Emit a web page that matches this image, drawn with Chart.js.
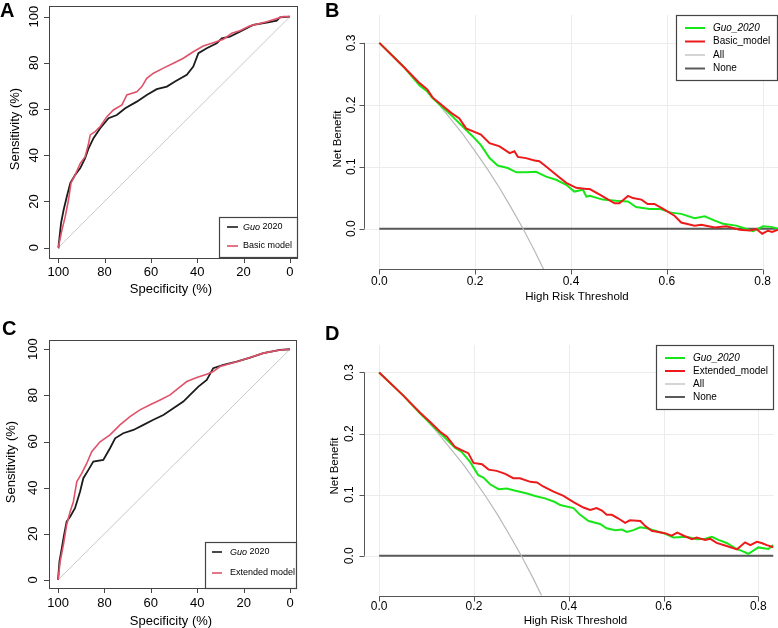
<!DOCTYPE html>
<html>
<head>
<meta charset="utf-8">
<title>ROC and decision curves</title>
<script src="https://cdn.jsdelivr.net/npm/chart.js@4.4.0/dist/chart.umd.min.js"></script>
<style>
  html, body { margin: 0; padding: 0; background: #fff; }
  #figure { position: relative; width: 778px; height: 628px; overflow: hidden; }
  #figure canvas { position: absolute; }
</style>
</head>
<body>
<div id="figure">
  <canvas id="panelA" width="300" height="310" style="left:0;top:0"></canvas>
  <canvas id="panelB" width="478" height="310" style="left:300px;top:0"></canvas>
  <canvas id="panelC" width="300" height="318" style="left:0;top:310px"></canvas>
  <canvas id="panelD" width="478" height="318" style="left:300px;top:310px"></canvas>
</div>
<script>
// ---- ROC data (specificity %, sensitivity %) ----
const rocTicks = [100, 80, 60, 40, 20, 0];
const diagSpec = [100, 0];
const diagSens = [0, 100];

const specGuoA = [100, 99.9, 98.8, 97.7, 96.3, 94.8, 92.7, 90.5, 88.4, 86.9, 84.8, 81.9, 78.3, 74.7, 71.1, 66.1, 61.8, 57.5, 53.1, 49.6, 44.5, 41.7, 39.5, 35.9, 31.6, 29.4, 25.9, 21.6, 17.2, 15.8, 10.0, 5.7, 4.3, 0];
const sensGuoA = [0, 0.4, 10.6, 16.3, 22.1, 27.9, 31.5, 34.4, 38.7, 43.0, 47.4, 51.7, 56.0, 57.4, 60.3, 63.2, 66.1, 68.6, 69.7, 71.9, 74.8, 78.4, 84.2, 86.3, 88.5, 90.6, 91.3, 93.5, 95.7, 96.4, 97.4, 98.3, 99.7, 100];
const specBasicA = [100, 98.4, 97.0, 95.6, 94.5, 92.7, 90.5, 88.4, 86.9, 86.2, 84.1, 81.9, 79.0, 76.2, 72.5, 70.4, 66.1, 63.9, 61.8, 58.9, 54.6, 50.3, 46.0, 41.7, 37.4, 33.1, 28.7, 25.1, 21.6, 17.2, 10.0, 2.9, 0];
const sensBasicA = [0, 7.7, 13.4, 20.6, 27.9, 31.5, 36.5, 39.4, 45.2, 48.8, 50.2, 52.4, 56.7, 59.6, 61.8, 66.1, 67.5, 69.7, 73.3, 75.5, 77.7, 79.8, 82.0, 84.8, 87.3, 88.7, 90.2, 92.8, 93.9, 96.0, 97.8, 100, 100];

const specGuoC = [100, 99.4, 98.4, 97.4, 96.3, 94.8, 92.7, 90.5, 89.1, 86.9, 84.8, 80.5, 77.6, 75.4, 71.9, 67.5, 63.2, 58.9, 54.6, 50.3, 46.0, 43.1, 39.5, 35.9, 33.1, 28.7, 23.0, 17.2, 11.5, 4.3, 0];
const sensGuoC = [0, 7.9, 13.7, 19.5, 25.3, 27.4, 31.1, 38.3, 44.1, 47.7, 51.3, 52.0, 57.1, 61.4, 63.6, 65.0, 67.2, 69.4, 71.5, 74.4, 77.3, 80.2, 83.8, 86.7, 91.8, 93.2, 94.6, 96.4, 98.3, 99.7, 100];
const specExtC = [100, 99.1, 97.7, 96.3, 94.8, 93.4, 91.9, 89.8, 87.6, 85.5, 81.9, 77.6, 73.3, 69.0, 64.7, 60.3, 56.0, 51.7, 48.1, 44.5, 40.2, 35.9, 33.1, 30.2, 23.0, 17.2, 11.5, 4.3, 0];
const sensExtC = [0, 7.9, 15.2, 23.8, 29.6, 33.9, 42.6, 46.2, 50.6, 55.6, 59.9, 62.9, 67.2, 70.8, 73.7, 75.9, 78.0, 80.2, 83.1, 86.0, 87.7, 89.2, 90.3, 92.5, 94.6, 96.4, 98.3, 99.7, 100];

// ---- Decision curve data (threshold, net benefit) ----
const thrTicks = [0, 0.2, 0.4, 0.6, 0.8];
const nbTicks = [0, 0.1, 0.2, 0.3];

const thrAll = [0, 0.025, 0.05, 0.075, 0.1, 0.125, 0.15, 0.175, 0.2, 0.225, 0.25, 0.275, 0.3, 0.325, 0.35];
const nbAll = [0.3, 0.282, 0.263, 0.243, 0.222, 0.2, 0.176, 0.152, 0.125, 0.097, 0.067, 0.034, 0.0, -0.037, -0.077];
const thrNone = [0, 0.832];
const nbNone = [0, 0];

const thrGuoB = [0, 0.05, 0.084, 0.1, 0.111, 0.153, 0.174, 0.195, 0.212, 0.23, 0.247, 0.268, 0.286, 0.306, 0.327, 0.348, 0.369, 0.39, 0.407, 0.425, 0.432, 0.439, 0.466, 0.494, 0.519, 0.536, 0.564, 0.585, 0.609, 0.63, 0.658, 0.679, 0.7, 0.717, 0.745, 0.773, 0.78, 0.801, 0.818, 0.832];
const nbGuoB = [0.3, 0.262, 0.231, 0.2215, 0.211, 0.181, 0.165, 0.149, 0.135, 0.114, 0.102, 0.098, 0.091, 0.091, 0.092, 0.084, 0.079, 0.071, 0.060, 0.063, 0.052, 0.053, 0.047, 0.045, 0.044, 0.035, 0.032, 0.032, 0.026, 0.024, 0.017, 0.020, 0.013, 0.008, 0.005, -0.002, -0.004, 0.004, 0.003, 0.0];
const thrBasicB = [0, 0.05, 0.084, 0.1, 0.111, 0.15, 0.167, 0.181, 0.212, 0.23, 0.251, 0.272, 0.282, 0.289, 0.306, 0.324, 0.334, 0.348, 0.369, 0.39, 0.411, 0.432, 0.439, 0.46, 0.491, 0.501, 0.519, 0.529, 0.547, 0.56, 0.574, 0.595, 0.616, 0.63, 0.658, 0.672, 0.7, 0.724, 0.752, 0.773, 0.787, 0.799, 0.811, 0.82, 0.832];
const nbBasicB = [0.3, 0.262, 0.235, 0.225, 0.212, 0.187, 0.178, 0.162, 0.152, 0.138, 0.133, 0.122, 0.125, 0.116, 0.114, 0.110, 0.109, 0.1005, 0.087, 0.074, 0.066, 0.064, 0.064, 0.055, 0.041, 0.041, 0.053, 0.0495, 0.047, 0.040, 0.040, 0.031, 0.021, 0.010, 0.005, 0.0065, 0.002, 0.004, -0.0016, -0.0027, -0.0005, -0.008, -0.0032, -0.0053, -0.0016];

const thrGuoD = [0, 0.05, 0.0865, 0.1287, 0.16, 0.174, 0.1915, 0.209, 0.22, 0.234, 0.252, 0.269, 0.29, 0.312, 0.329, 0.35, 0.371, 0.382, 0.41, 0.424, 0.442, 0.466, 0.48, 0.498, 0.512, 0.5225, 0.5365, 0.5505, 0.565, 0.582, 0.6, 0.621, 0.649, 0.67, 0.688, 0.702, 0.716, 0.733, 0.751, 0.765, 0.779, 0.8, 0.821, 0.832];
const nbGuoD = [0.3, 0.263, 0.233, 0.201, 0.177, 0.170, 0.154, 0.132, 0.128, 0.117, 0.109, 0.110, 0.106, 0.102, 0.098, 0.094, 0.088, 0.083, 0.078, 0.067, 0.057, 0.052, 0.045, 0.042, 0.043, 0.039, 0.042, 0.0465, 0.045, 0.041, 0.037, 0.030, 0.031, 0.027, 0.028, 0.031, 0.026, 0.021, 0.0126, 0.008, 0.0033, 0.0137, 0.011, 0.0175];
const thrExtD = [0, 0.05, 0.0865, 0.1076, 0.1287, 0.143, 0.16, 0.174, 0.188, 0.199, 0.217, 0.231, 0.248, 0.266, 0.283, 0.297, 0.319, 0.333, 0.347, 0.368, 0.389, 0.41, 0.431, 0.445, 0.459, 0.47, 0.48, 0.491, 0.505, 0.519, 0.529, 0.551, 0.561, 0.575, 0.589, 0.603, 0.617, 0.629, 0.645, 0.66, 0.67, 0.688, 0.698, 0.712, 0.733, 0.755, 0.772, 0.783, 0.797, 0.807, 0.818, 0.832];
const nbExtD = [0.3, 0.263, 0.234, 0.219, 0.203, 0.195, 0.178, 0.173, 0.168, 0.152, 0.150, 0.141, 0.139, 0.134, 0.127, 0.127, 0.121, 0.120, 0.113, 0.105, 0.098, 0.088, 0.079, 0.075, 0.078, 0.074, 0.067, 0.067, 0.061, 0.054, 0.058, 0.057, 0.049, 0.041, 0.039, 0.037, 0.033, 0.038, 0.032, 0.027, 0.030, 0.026, 0.028, 0.021, 0.016, 0.0105, 0.022, 0.0175, 0.023, 0.021, 0.0175, 0.014];

// ---- styles ----
const FONT = '"Liberation Sans", Arial, Helvetica, sans-serif';
const COLORS = {
    rocGuo: '#1c1c1c',
    rocModel: '#e0526a',
    diag: '#c9c9c9',
    dcaGuo: '#19e619',
    dcaModel: '#ec1a1a',
    all: '#b9b9b9',
    none: '#5a5a5a',
    grid: '#ececec',
    frame: '#444444'
};

const toPoints = (xs, ys) => xs.map((x, i) => ({ x: x, y: ys[i] }));

function line(data, color, width, order) {
    return {
        data: data,
        borderColor: color,
        borderWidth: width,
        pointRadius: 0,
        showLine: true,
        tension: 0,
        order: order
    };
}

function drawText(ctx, text, x, y, font, rotate) {
    ctx.save();
    ctx.font = font;
    ctx.fillStyle = '#000';
    ctx.textAlign = 'center';
    ctx.textBaseline = 'middle';
    ctx.translate(x, y);
    if (rotate) ctx.rotate(-Math.PI / 2);
    ctx.fillText(text, 0, 0);
    ctx.restore();
}

function drawLegend(ctx, lg) {
    ctx.save();
    ctx.fillStyle = '#fff';
    ctx.fillRect(lg.box[0], lg.box[1], lg.box[2] - lg.box[0], lg.box[3] - lg.box[1]);
    ctx.strokeStyle = COLORS.frame;
    ctx.lineWidth = 1.2;
    ctx.strokeRect(lg.box[0] + 0.5, lg.box[1] + 0.5, lg.box[2] - lg.box[0] - 1, lg.box[3] - lg.box[1] - 1);
    lg.items.forEach((item, i) => {
        const y = lg.rows[i];
        ctx.strokeStyle = item.color;
        ctx.lineWidth = item.width;
        ctx.beginPath();
        ctx.moveTo(lg.line[0], y);
        ctx.lineTo(lg.line[1], y);
        ctx.stroke();
        ctx.fillStyle = '#000';
        ctx.textAlign = 'left';
        ctx.textBaseline = 'middle';
        let x = lg.textX;
        item.parts.forEach(part => {
            ctx.font = (part.italic ? 'italic ' : '') + lg.size + 'px ' + FONT;
            ctx.fillText(part.text, x, y);
            x += ctx.measureText(part.text).width;
        });
    });
    ctx.restore();
}

function drawLetter(ctx, letter, x, y) {
    ctx.save();
    ctx.font = 'bold 20px ' + FONT;
    ctx.fillStyle = '#000';
    ctx.textAlign = 'left';
    ctx.textBaseline = 'alphabetic';
    ctx.fillText(letter, x, y);
    ctx.restore();
}

// R style frame for the ROC panels: full box, ticks outside
function rocFrame(cfg) {
    return {
        id: 'rocFrame',
        afterDatasetsDraw(chart) {
            const ctx = chart.ctx;
            const area = chart.chartArea;
            const xs = chart.scales.x;
            const ys = chart.scales.y;
            ctx.save();
            ctx.strokeStyle = COLORS.frame;
            ctx.lineWidth = 1;
            ctx.strokeRect(area.left + 0.5, area.top + 0.5, area.right - area.left - 1, area.bottom - area.top);
            ctx.beginPath();
            rocTicks.forEach(v => {
                const px = Math.round(xs.getPixelForValue(v)) + 0.5;
                ctx.moveTo(px, area.bottom);
                ctx.lineTo(px, area.bottom + 5);
                const py = Math.round(ys.getPixelForValue(v)) + 0.5;
                ctx.moveTo(area.left, py);
                ctx.lineTo(area.left - 5, py);
            });
            ctx.stroke();
            ctx.restore();

            const tickFont = '13px ' + FONT;
            rocTicks.forEach(v => {
                drawText(ctx, String(v), xs.getPixelForValue(v), cfg.xLabelY, tickFont, false);
                drawText(ctx, String(v), cfg.yLabelX, ys.getPixelForValue(v), tickFont, true);
            });
            drawText(ctx, 'Specificity (%)', cfg.xTitleX, cfg.xTitleY, tickFont, false);
            drawText(ctx, 'Sensitivity (%)', cfg.yTitleX, cfg.yTitleY, tickFont, true);
            drawLegend(ctx, cfg.legend);
            drawLetter(ctx, cfg.letter, cfg.letterX, cfg.letterY);
        }
    };
}

// R style frame for the decision curves: grid, open axes spanning the ticks
function dcaFrame(cfg) {
    return {
        id: 'dcaFrame',
        beforeDatasetsDraw(chart) {
            const ctx = chart.ctx;
            const area = chart.chartArea;
            ctx.save();
            ctx.strokeStyle = COLORS.grid;
            ctx.lineWidth = 1;
            ctx.beginPath();
            thrTicks.forEach(v => {
                const px = Math.round(chart.scales.x.getPixelForValue(v)) + 0.5;
                ctx.moveTo(px, area.top);
                ctx.lineTo(px, area.bottom);
            });
            nbTicks.forEach(v => {
                const py = Math.round(chart.scales.y.getPixelForValue(v)) + 0.5;
                ctx.moveTo(area.left, py);
                ctx.lineTo(area.right, py);
            });
            ctx.stroke();
            ctx.restore();
        },
        afterDatasetsDraw(chart) {
            const ctx = chart.ctx;
            const area = chart.chartArea;
            const xs = chart.scales.x;
            const ys = chart.scales.y;
            const xAxisY = Math.round(area.bottom) + 0.5;
            const yAxisX = Math.round(area.left) + 0.5;
            ctx.save();
            ctx.strokeStyle = '#555';
            ctx.lineWidth = 1;
            ctx.beginPath();
            ctx.moveTo(xs.getPixelForValue(thrTicks[0]), xAxisY);
            ctx.lineTo(xs.getPixelForValue(thrTicks[thrTicks.length - 1]), xAxisY);
            thrTicks.forEach(v => {
                const px = Math.round(xs.getPixelForValue(v)) + 0.5;
                ctx.moveTo(px, xAxisY);
                ctx.lineTo(px, xAxisY + 5);
            });
            ctx.moveTo(yAxisX, ys.getPixelForValue(nbTicks[0]));
            ctx.lineTo(yAxisX, ys.getPixelForValue(nbTicks[nbTicks.length - 1]));
            nbTicks.forEach(v => {
                const py = Math.round(ys.getPixelForValue(v)) + 0.5;
                ctx.moveTo(yAxisX, py);
                ctx.lineTo(yAxisX - 5, py);
            });
            ctx.stroke();
            ctx.restore();

            const tickFont = '12px ' + FONT;
            const titleFont = '11.5px ' + FONT;
            thrTicks.forEach(v => drawText(ctx, v.toFixed(1), xs.getPixelForValue(v), cfg.xLabelY, tickFont, false));
            nbTicks.forEach(v => drawText(ctx, v.toFixed(1), cfg.yLabelX, ys.getPixelForValue(v), tickFont, true));
            drawText(ctx, 'High Risk Threshold', cfg.xTitleX, cfg.xTitleY, titleFont, false);
            drawText(ctx, 'Net Benefit', cfg.yTitleX, cfg.yTitleY, titleFont, true);
            drawLegend(ctx, cfg.legend);
            drawLetter(ctx, cfg.letter, cfg.letterX, cfg.letterY);
        }
    };
}

function makeChart(id, padding, xMin, xMax, yMin, yMax, reverseX, datasets, frame) {
    return new Chart(document.getElementById(id), {
        type: 'scatter',
        data: { datasets: datasets },
        options: {
            responsive: false,
            animation: false,
            devicePixelRatio: 1,
            layout: { padding: padding },
            plugins: { legend: { display: false }, tooltip: { enabled: false } },
            scales: {
                x: { type: 'linear', min: xMin, max: xMax, reverse: reverseX, display: false },
                y: { type: 'linear', min: yMin, max: yMax, display: false }
            }
        },
        plugins: [frame]
    });
}

const guoParts = [{ text: 'Guo', italic: true }, { text: ' 2020' }];

// Panel A
makeChart('panelA', { left: 49, right: 2, top: 6, bottom: 52 }, -3.5, 104, -4.5, 104.6, true, [
    line(toPoints(diagSpec, diagSens), COLORS.diag, 1, 3),
    line(toPoints(specGuoA, sensGuoA), COLORS.rocGuo, 1.8, 2),
    line(toPoints(specBasicA, sensBasicA), COLORS.rocModel, 1.6, 1)
], rocFrame({
    xLabelY: 272.5, xTitleX: 171, xTitleY: 289,
    yLabelX: 34, yTitleX: 15, yTitleY: 129,
    letter: 'A', letterX: 0, letterY: 17,
    legend: {
        box: [219, 217, 298, 258], rows: [227, 246], line: [227, 238], textX: 243, size: 9,
        items: [
            { parts: guoParts, color: COLORS.rocGuo, width: 1.6 },
            { parts: [{ text: 'Basic model' }], color: COLORS.rocModel, width: 1.6 }
        ]
    }
}));

// Panel B
makeChart('panelB', { left: 64, right: 0, top: 15, bottom: 41 }, -0.032, 0.832, -0.065, 0.345, false, [
    line(toPoints(thrNone, nbNone), COLORS.none, 2, 4),
    line(toPoints(thrAll, nbAll), COLORS.all, 1.2, 3),
    line(toPoints(thrGuoB, nbGuoB), COLORS.dcaGuo, 2, 2),
    line(toPoints(thrBasicB, nbBasicB), COLORS.dcaModel, 2, 1)
], dcaFrame({
    xLabelY: 282, xTitleX: 277, xTitleY: 297,
    yLabelX: 52, yTitleX: 38, yTitleY: 139,
    letter: 'B', letterX: 25, letterY: 17,
    legend: {
        box: [376, 15, 478, 81], rows: [28, 41.5, 55, 68.5], line: [385, 405], textX: 413, size: 10,
        items: [
            { parts: [{ text: 'Guo_2020', italic: true }], color: COLORS.dcaGuo, width: 2 },
            { parts: [{ text: 'Basic_model' }], color: COLORS.dcaModel, width: 2 },
            { parts: [{ text: 'All' }], color: COLORS.all, width: 1.2 },
            { parts: [{ text: 'None' }], color: COLORS.none, width: 2 }
        ]
    }
}));

// Panel C
makeChart('panelC', { left: 49, right: 3, top: 30, bottom: 40 }, -3, 103.9, -3.5, 104, true, [
    line(toPoints(diagSpec, diagSens), COLORS.diag, 1, 3),
    line(toPoints(specGuoC, sensGuoC), COLORS.rocGuo, 1.8, 2),
    line(toPoints(specExtC, sensExtC), COLORS.rocModel, 1.6, 1)
], rocFrame({
    xLabelY: 293.5, xTitleX: 171, xTitleY: 311,
    yLabelX: 33, yTitleX: 11, yTitleY: 152,
    letter: 'C', letterX: 2, letterY: 25,
    legend: {
        box: [205, 232, 297, 279], rows: [242, 263], line: [212, 222], textX: 230, size: 9,
        items: [
            { parts: guoParts, color: COLORS.rocGuo, width: 1.6 },
            { parts: [{ text: 'Extended model' }], color: COLORS.rocModel, width: 1.6 }
        ]
    }
}));

// Panel D
makeChart('panelD', { left: 64, right: 4.5, top: 35, bottom: 32.5 }, -0.032, 0.832, -0.065, 0.345, false, [
    line(toPoints(thrNone, nbNone), COLORS.none, 2, 4),
    line(toPoints(thrAll, nbAll), COLORS.all, 1.2, 3),
    line(toPoints(thrGuoD, nbGuoD), COLORS.dcaGuo, 2, 2),
    line(toPoints(thrExtD, nbExtD), COLORS.dcaModel, 2, 1)
], dcaFrame({
    xLabelY: 296.5, xTitleX: 275.5, xTitleY: 311,
    yLabelX: 50, yTitleX: 35, yTitleY: 156,
    letter: 'D', letterX: 25, letterY: 30,
    legend: {
        box: [356, 35, 474, 100], rows: [48, 61, 74, 87], line: [365, 385], textX: 393, size: 10,
        items: [
            { parts: [{ text: 'Guo_2020', italic: true }], color: COLORS.dcaGuo, width: 2 },
            { parts: [{ text: 'Extended_model' }], color: COLORS.dcaModel, width: 2 },
            { parts: [{ text: 'All' }], color: COLORS.all, width: 1.2 },
            { parts: [{ text: 'None' }], color: COLORS.none, width: 2 }
        ]
    }
}));
</script>
</body>
</html>
